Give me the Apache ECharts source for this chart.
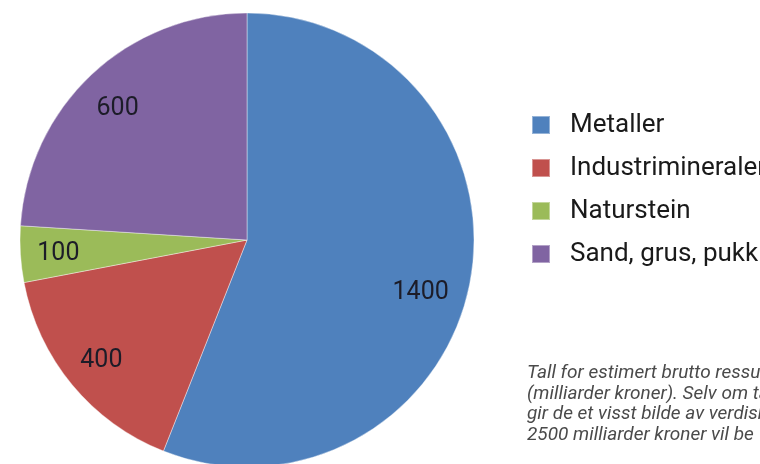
<!DOCTYPE html>
<html>
<head>
<meta charset="utf-8">
<script src="https://cdn.jsdelivr.net/npm/echarts@6/dist/echarts.min.js"></script>
<style>html,body{margin:0;padding:0;background:#fff;}#c{width:760px;height:464px;}</style>
</head>
<body>
<div id="c"></div>
<script>
const categories = ['Metaller', 'Industrimineraler', 'Naturstein', 'Sand, grus, pukk'];
const values = [1400, 400, 100, 600];
const colors = ['#4F81BD', '#C0504D', '#9BBB59', '#8064A2'];
const noteLines = [
  'Tall for estimert brutto ressursverdi',
  '(milliarder kroner). Selv om tallene',
  'gir de et visst bilde av verdiskapingen',
  '2500 milliarder kroner vil be'
];

const chart = echarts.init(document.getElementById('c'), null, {renderer: 'canvas'});
const R = 227;
const labelOffsets = [[-12, 17], [0, 0], [0, 2], [0, 7]];
const baseData = categories.map((n, i) => ({name: n, value: values[i], itemStyle: {color: colors[i]}}));
const labelData = categories.map((n, i) => ({name: n, value: values[i], label: {offset: labelOffsets[i]}}));
chart.setOption({
  animation: false,
  backgroundColor: '#ffffff',
  legend: {
    orient: 'vertical',
    left: 526,
    top: 107,
    icon: 'rect',
    itemWidth: 18,
    itemHeight: 18,
    itemGap: 17,
    selectedMode: false,
    data: categories,
    textStyle: {fontFamily: 'Roboto', fontSize: 26, lineHeight: 26, color: '#1a1a1a', padding: [0, 0, 0, 15]}
  },
  series: [
    {
      type: 'pie',
      center: [247, 240],
      radius: [0, R],
      startAngle: 90,
      clockwise: true,
      silent: true,
      label: {show: false},
      labelLine: {show: false},
      itemStyle: {borderColor: 'rgba(255,255,255,0.4)', borderWidth: 1},
      data: baseData
    },
    {
      type: 'pie',
      center: [247, 240],
      radius: [Math.round(R * 0.64), R],
      startAngle: 90,
      clockwise: true,
      silent: true,
      legendHoverLink: false,
      itemStyle: {color: 'rgba(0,0,0,0)'},
      label: {show: true, position: 'inside', formatter: '{c}', fontFamily: 'Roboto', fontSize: 25, color: '#1c1c28'},
      labelLine: {show: false},
      data: labelData
    }
  ],
  graphic: [{
    type: 'text',
    left: 527,
    top: 363,
    style: {
      text: noteLines.join('\n'),
      fontFamily: 'Roboto',
      fontStyle: 'italic',
      fontSize: 19,
      lineHeight: 20.5,
      fill: '#4a4a4a'
    }
  }]
});
</script>
</body>
</html>
